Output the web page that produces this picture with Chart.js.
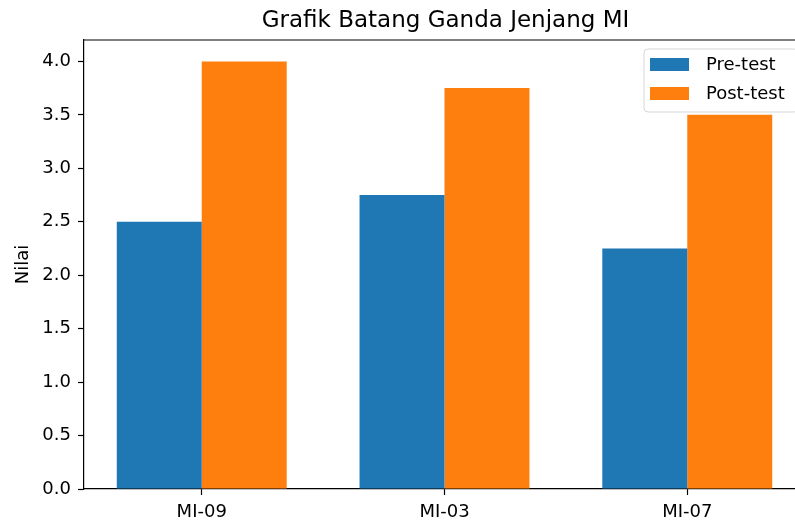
<!DOCTYPE html>
<html>
<head>
<meta charset="utf-8">
<script src="https://cdn.jsdelivr.net/npm/chart.js@4.4.1/dist/chart.umd.min.js"></script>
<style>
  body { margin: 0; overflow: hidden; background: #fff; }
</style>
</head>
<body>
<canvas id="myChart" width="805" height="521"></canvas>
<script>
'use strict';

// values
var categories = ['MI-09', 'MI-03', 'MI-07'];
var preTest = [2.5, 2.75, 2.25];
var postTest = [4.0, 3.75, 3.5];
var seriesNames = ['Pre-test', 'Post-test'];
var seriesColors = ['#1f77b4', '#ff7f0e'];
var yTicks = [0, 0.5, 1.0, 1.5, 2.0, 2.5, 3.0, 3.5, 4.0];
var chartTitle = 'Grafik Batang Ganda Jenjang MI';
var yTitle = 'Nilai';

var FONT = '"DejaVu Sans", "Liberation Sans", sans-serif';

// turn category index into {x, y} for the linear x scale
function points(values) {
  return categories.map(function(c, i) { return { x: i, y: values[i] }; });
}

// top/right spines, title and the legend box inside the axes
var decorations = {
  id: 'decorations',
  afterDraw: function(chart) {
    var ctx = chart.ctx;
    var a = chart.chartArea;
    ctx.save();

    ctx.strokeStyle = '#000';
    ctx.lineWidth = 1.2;
    ctx.beginPath();
    ctx.moveTo(a.left, a.top);
    ctx.lineTo(a.right, a.top);
    ctx.lineTo(a.right, a.bottom);
    ctx.stroke();

    ctx.fillStyle = '#000';
    ctx.font = '23px ' + FONT;
    ctx.textAlign = 'center';
    ctx.textBaseline = 'alphabetic';
    ctx.fillText(chartTitle, (a.left + a.right) / 2 + 1, 27);

    // legend frame
    var bx = a.right - 161, by = a.top + 9, bw = 154, bh = 63, r = 4;
    ctx.beginPath();
    ctx.moveTo(bx + r, by);
    ctx.lineTo(bx + bw - r, by);
    ctx.arcTo(bx + bw, by, bx + bw, by + r, r);
    ctx.lineTo(bx + bw, by + bh - r);
    ctx.arcTo(bx + bw, by + bh, bx + bw - r, by + bh, r);
    ctx.lineTo(bx + r, by + bh);
    ctx.arcTo(bx, by + bh, bx, by + bh - r, r);
    ctx.lineTo(bx, by + r);
    ctx.arcTo(bx, by, bx + r, by, r);
    ctx.closePath();
    ctx.fillStyle = 'rgba(255,255,255,0.8)';
    ctx.fill();
    ctx.strokeStyle = 'rgba(204,204,204,0.8)';
    ctx.lineWidth = 1;
    ctx.stroke();

    ctx.font = '18px ' + FONT;
    ctx.textAlign = 'left';
    ctx.textBaseline = 'middle';
    chart.data.datasets.forEach(function(ds, i) {
      var py = by + 9 + i * 29;
      ctx.fillStyle = ds.backgroundColor;
      ctx.fillRect(bx + 6, py, 39, 13);
      ctx.fillStyle = '#000';
      ctx.fillText(ds.label, bx + 62, py + 7);
    });

    ctx.restore();
  }
};

var ctx = document.getElementById('myChart').getContext('2d');
var chart = new Chart(ctx, {
  type: 'bar',
  data: {
    datasets: [
      {
        label: seriesNames[0],
        backgroundColor: seriesColors[0],
        borderWidth: 0,
        data: points(preTest)
      },
      {
        label: seriesNames[1],
        backgroundColor: seriesColors[1],
        borderWidth: 0,
        data: points(postTest)
      }
    ]
  },
  options: {
    responsive: false,
    animation: false,
    layout: { padding: { top: 40, left: 0, right: 0, bottom: 0 } },
    datasets: { bar: { categoryPercentage: 0.7, barPercentage: 1.0 } },
    plugins: {
      legend: { display: false },
      title: { display: false },
      tooltip: { enabled: false }
    },
    scales: {
      x: {
        type: 'linear',
        offset: false,
        min: -0.485,
        max: 2.485,
        afterBuildTicks: function(scale) {
          scale.ticks = categories.map(function(c, i) { return { value: i }; });
        },
        afterFit: function(scale) { scale.height = 32; },
        ticks: {
          color: '#000',
          padding: 7,
          font: { family: FONT, size: 18 },
          callback: function(v) { return categories[v]; }
        },
        grid: { offset: false, drawOnChartArea: false, drawTicks: true, tickLength: 6, color: '#000', tickWidth: 1.2 },
        border: { color: '#000', width: 1.2 }
      },
      y: {
        min: 0,
        max: 4.2,
        afterBuildTicks: function(scale) {
          scale.ticks = yTicks.map(function(v) { return { value: v }; });
        },
        afterFit: function(scale) { scale.width = 84; },
        ticks: {
          color: '#000',
          padding: 7,
          font: { family: FONT, size: 18 },
          callback: function(v) { return v.toFixed(1); }
        },
        grid: { drawOnChartArea: false, drawTicks: true, tickLength: 6, color: '#000', tickWidth: 1.2 },
        border: { color: '#000', width: 1.2 },
        title: {
          display: true,
          text: yTitle,
          color: '#000',
          font: { family: FONT, size: 18 },
          padding: { top: 13, bottom: 0 }
        }
      }
    }
  },
  plugins: [decorations]
});
</script>
</body>
</html>
